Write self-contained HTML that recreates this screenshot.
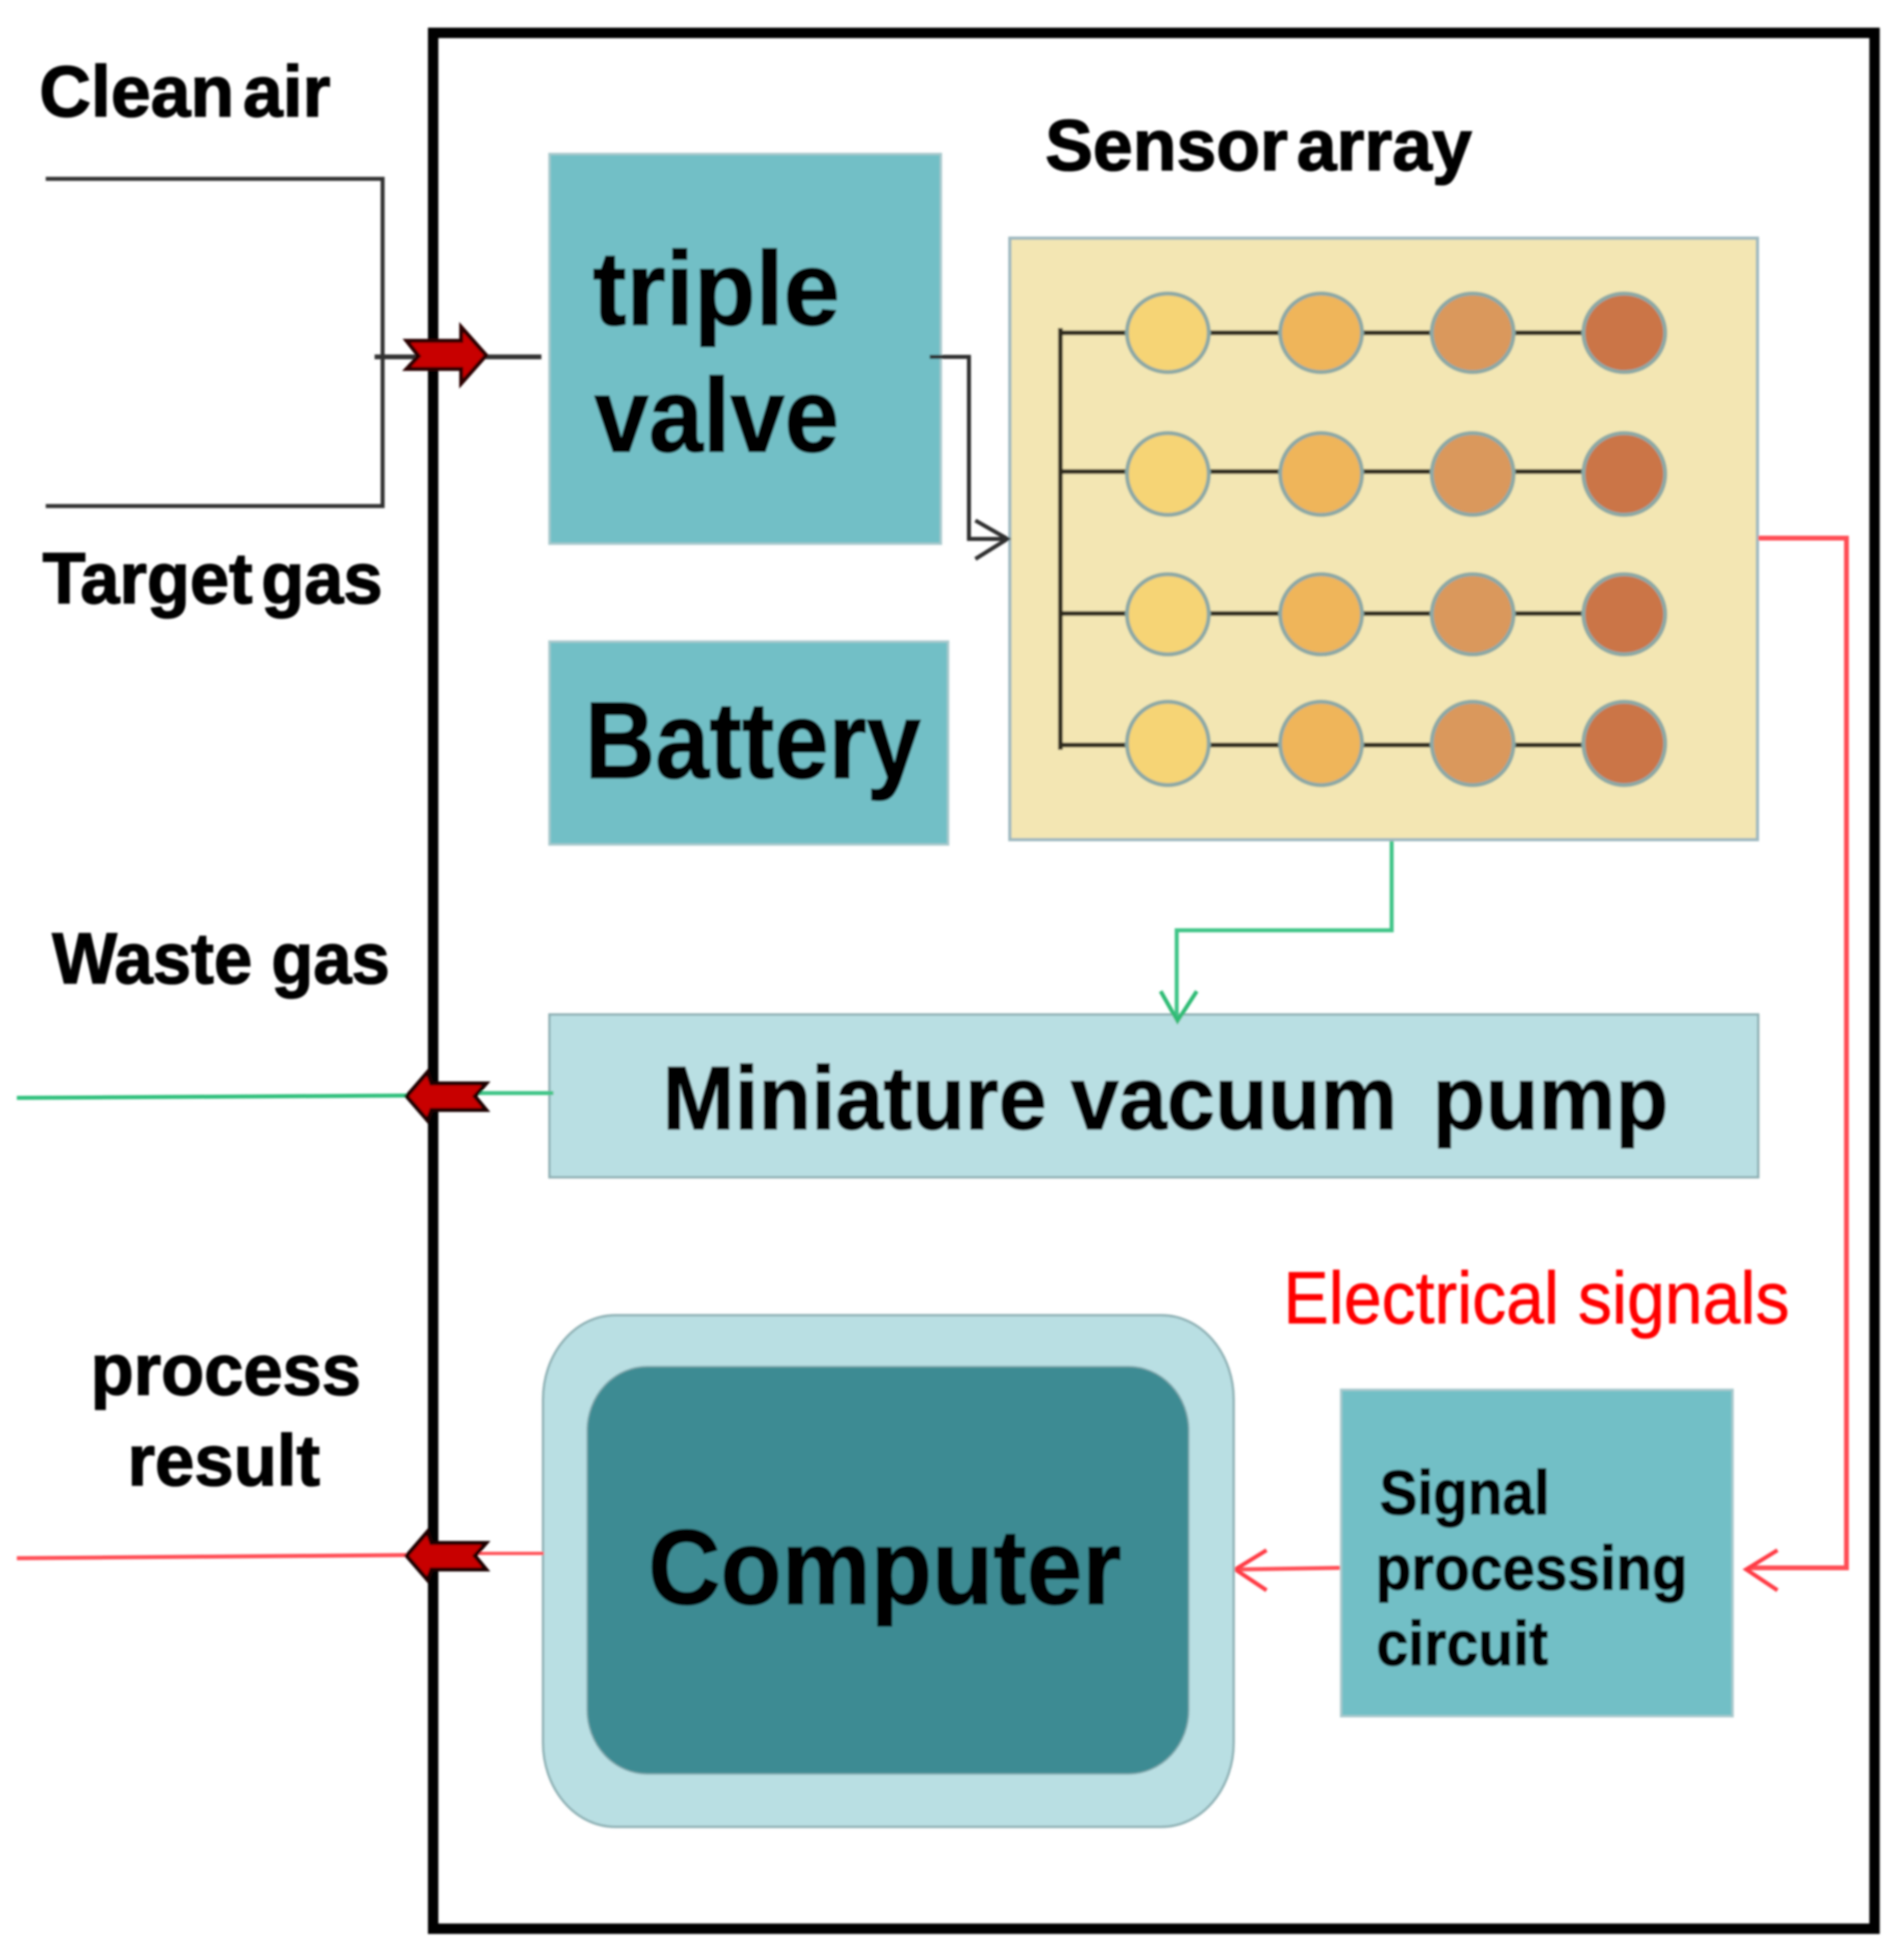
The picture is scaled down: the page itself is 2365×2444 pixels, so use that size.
<!DOCTYPE html>
<html>
<head>
<meta charset="utf-8">
<style>
html,body{margin:0;padding:0;background:#fff;width:2365px;height:2444px;overflow:hidden}
svg{display:block}
text{font-family:"Liberation Sans",Arial,sans-serif;font-weight:bold;fill:#050505;stroke:#050505;stroke-width:1.6px}
</style>
</head>
<body>
<svg width="2365" height="2444" viewBox="0 0 2365 2444" xmlns="http://www.w3.org/2000/svg">
<defs><filter id="b" x="-2%" y="-2%" width="104%" height="104%"><feGaussianBlur stdDeviation="1.3"/></filter></defs>
<rect width="2365" height="2444" fill="#fff"/>
<g filter="url(#b)">
<!-- frame -->
<rect x="540" y="41" width="1797" height="2364" fill="none" stroke="#000" stroke-width="13"/>

<!-- inlet lines -->
<polyline points="57,223 477,223 477,631 57,631" fill="none" stroke="#333" stroke-width="5"/>
<line x1="467" y1="445" x2="675" y2="445" stroke="#333" stroke-width="6"/>

<!-- boxes -->
<rect x="685" y="192" width="488" height="486" fill="#72bfc6" stroke="#a9c9cc" stroke-width="3"/>
<rect x="685" y="800" width="497" height="253" fill="#72bfc6" stroke="#a9c9cc" stroke-width="3"/>

<!-- sensor panel -->
<rect x="1259" y="297" width="932" height="750" fill="#f3e6b3" stroke="#9fb9c0" stroke-width="4"/>
<g stroke="#2f2c1e" stroke-width="6" fill="none">
<line x1="1322" y1="409" x2="1322" y2="935"/>
<line x1="1322" y1="415" x2="2025" y2="415"/>
<line x1="1322" y1="588" x2="2025" y2="588"/>
<line x1="1322" y1="765" x2="2025" y2="765"/>
<line x1="1322" y1="929" x2="2025" y2="929"/>
</g>
<g stroke="#8ca9a5" stroke-width="5">
<ellipse cx="1456" cy="415" rx="51" ry="49" fill="#f6d475"/>
<ellipse cx="1647" cy="415" rx="51" ry="49" fill="#efb55a"/>
<ellipse cx="1836" cy="415" rx="51" ry="49" fill="#da985b"/>
<ellipse cx="2025" cy="415" rx="51" ry="49" fill="#cb7447"/>
<ellipse cx="1456" cy="591" rx="51" ry="51" fill="#f6d475"/>
<ellipse cx="1647" cy="591" rx="51" ry="51" fill="#efb55a"/>
<ellipse cx="1836" cy="591" rx="51" ry="51" fill="#da985b"/>
<ellipse cx="2025" cy="591" rx="51" ry="51" fill="#cb7447"/>
<ellipse cx="1456" cy="766" rx="51" ry="50" fill="#f6d475"/>
<ellipse cx="1647" cy="766" rx="51" ry="50" fill="#efb55a"/>
<ellipse cx="1836" cy="766" rx="51" ry="50" fill="#da985b"/>
<ellipse cx="2025" cy="766" rx="51" ry="50" fill="#cb7447"/>
<ellipse cx="1456" cy="927" rx="51" ry="52" fill="#f6d475"/>
<ellipse cx="1647" cy="927" rx="51" ry="52" fill="#efb55a"/>
<ellipse cx="1836" cy="927" rx="51" ry="52" fill="#da985b"/>
<ellipse cx="2025" cy="927" rx="51" ry="52" fill="#cb7447"/>
</g>

<!-- valve to sensor -->
<polyline points="1159,445 1208,445 1208,672 1254,672" fill="none" stroke="#2d2d2d" stroke-width="5"/>
<polyline points="1216,649 1256,672 1216,697" fill="none" stroke="#2d2d2d" stroke-width="5"/>

<!-- red electrical -->
<polyline points="2192,671 2302,671 2302,1955 2180,1955" fill="none" stroke="#ff4d55" stroke-width="6"/>
<polyline points="2216,1933 2177,1957 2216,1983" fill="none" stroke="#ff3b45" stroke-width="5"/>
<line x1="1672" y1="1955" x2="1542" y2="1957" stroke="#ff4d55" stroke-width="5"/>
<polyline points="1579,1933 1540,1957 1579,1983" fill="none" stroke="#ff3b45" stroke-width="5"/>

<!-- pump -->
<rect x="685" y="1265" width="1507" height="203" fill="#b9dfe3" stroke="#8fb0b4" stroke-width="3"/>
<!-- green -->
<polyline points="1735,1049 1735,1160 1467,1160 1467,1270" fill="none" stroke="#3fc587" stroke-width="5"/>
<polyline points="1447,1236 1468,1273 1492,1236" fill="none" stroke="#2fbb75" stroke-width="5"/>
<line x1="21" y1="1369" x2="510" y2="1366" stroke="#2fc07c" stroke-width="5"/>
<line x1="590" y1="1363" x2="690" y2="1363" stroke="#3fc587" stroke-width="5"/>

<!-- computer -->
<rect x="677" y="1640" width="861" height="638" rx="90" ry="105" fill="#b9dfe3" stroke="#90b2b6" stroke-width="3"/>
<rect x="732" y="1704" width="750" height="508" rx="75" ry="80" fill="#3e8b93" stroke="#7fa9ae" stroke-width="2"/>
<line x1="21" y1="1943" x2="510" y2="1939" stroke="#ff4d55" stroke-width="5"/>
<line x1="590" y1="1937" x2="678" y2="1937" stroke="#ff4d55" stroke-width="4"/>

<!-- signal box -->
<rect x="1672" y="1733" width="488" height="407" fill="#72bfc6" stroke="#a9c9cc" stroke-width="3"/>

<!-- red block arrows -->
<polygon points="507,425 575,425 575,408 606,443 575,478 575,460 507,460 522,444" fill="#c80000" stroke="#2a0505" stroke-width="5"/>
<polygon points="507,1367 533,1337 538,1351 606,1351 592,1367 606,1384 538,1384 533,1397" fill="#c80000" stroke="#1a0303" stroke-width="5"/>
<polygon points="507,1940 533,1910 538,1924 606,1924 592,1940 606,1957 538,1957 533,1970" fill="#c80000" stroke="#1a0303" stroke-width="5"/>

<!-- labels -->
<text x="49" y="145" font-size="90" textLength="363" lengthAdjust="spacingAndGlyphs" word-spacing="-14">Clean air</text>
<text x="53" y="752" font-size="90" textLength="424" lengthAdjust="spacingAndGlyphs" word-spacing="-14">Target gas</text>
<text x="739" y="405" font-size="131" textLength="308" lengthAdjust="spacingAndGlyphs">triple</text>
<text x="741" y="563" font-size="131" textLength="305" lengthAdjust="spacingAndGlyphs">valve</text>
<text x="729" y="970" font-size="136" textLength="419" lengthAdjust="spacingAndGlyphs">Battery</text>
<text x="1303" y="212" font-size="90" textLength="532" lengthAdjust="spacingAndGlyphs" word-spacing="-14">Sensor array</text>
<text x="65" y="1226" font-size="90" textLength="421" lengthAdjust="spacingAndGlyphs">Waste gas</text>
<text x="826" y="1408" font-size="112" textLength="916" lengthAdjust="spacingAndGlyphs">Miniature vacuum</text>
<text x="1786" y="1408" font-size="112" textLength="294" lengthAdjust="spacingAndGlyphs">pump</text>
<text x="113" y="1739" font-size="90" textLength="337" lengthAdjust="spacingAndGlyphs">process</text>
<text x="159" y="1852" font-size="90" textLength="240" lengthAdjust="spacingAndGlyphs">result</text>
<text x="808" y="2000" font-size="133" textLength="590" lengthAdjust="spacingAndGlyphs">Computer</text>
<text x="1600" y="1650" font-size="92" textLength="631" lengthAdjust="spacingAndGlyphs" style="font-weight:normal;fill:#ff0000;stroke:#ff0000;stroke-width:.8px">Electrical signals</text>
<text x="1720" y="1888" font-size="78" textLength="212" lengthAdjust="spacingAndGlyphs">Signal</text>
<text x="1715" y="1982" font-size="78" textLength="389" lengthAdjust="spacingAndGlyphs">processing</text>
<text x="1716" y="2076" font-size="78" textLength="214" lengthAdjust="spacingAndGlyphs">circuit</text>
</g>
</svg>
</body>
</html>
